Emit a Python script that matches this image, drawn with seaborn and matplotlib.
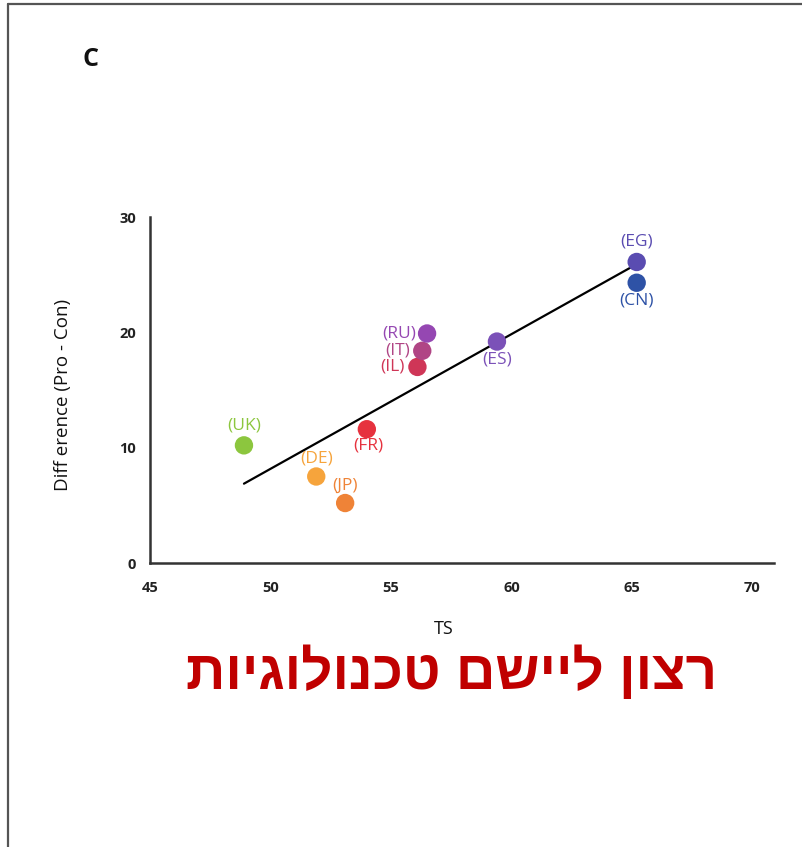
import matplotlib
matplotlib.use("Agg")
import matplotlib.pyplot as plt
from matplotlib.lines import Line2D
from matplotlib import font_manager
import pandas as pd
import seaborn as sns

# Country scores: TS (x) against the Pro - Con difference (y)
countries = ["UK", "DE", "JP", "FR", "IL", "IT", "RU", "ES", "EG", "CN"]
ts_scores = [48.9, 51.9, 53.1, 54.0, 56.1, 56.3, 56.5, 59.4, 65.2, 65.2]
pro_minus_con = [10.2, 7.5, 5.2, 11.6, 17.0, 18.4, 19.9, 19.2, 26.1, 24.3]

x_ticks = [45, 50, 55, 60, 65, 70]
y_ticks = [0, 10, 20, 30]

panel_letter = "C"
x_label = "TS"
y_label = "Diff erence (Pro - Con)"
title_text = "רצון ליישם טכנולוגיות"

point_colors = {
    "UK": "#8cc63e", "DE": "#f6a43c", "JP": "#ef8337", "FR": "#e6323e",
    "IL": "#cf3657", "IT": "#b04585", "RU": "#9547b2", "ES": "#7b51b8",
    "EG": "#5a4cb1", "CN": "#2e52a6",
}

# label placement around each marker: (dx, dy) in points, horizontal alignment
label_place = {
    "UK": (0, 14.5, "center"), "DE": (0, 13, "center"), "JP": (0, 12.5, "center"),
    "FR": (1, -12, "center"), "IL": (-9, 0, "right"), "IT": (-8.5, 0, "right"),
    "RU": (-8, 0, "right"), "ES": (0, -13, "center"), "EG": (0, 14.5, "center"),
    "CN": (0, -13, "center"),
}

df = pd.DataFrame({"country": countries, "TS": ts_scores, "diff": pro_minus_con})

sns.set_theme(style="white")
installed = {f.name for f in font_manager.fontManager.ttflist}
base_font = "Open Sans" if "Open Sans" in installed else "DejaVu Sans"
narrow_font = "Liberation Sans Narrow" if "Liberation Sans Narrow" in installed else base_font
title_font = "Liberation Sans" if "Liberation Sans" in installed else "DejaVu Sans"
plt.rcParams["font.family"] = [base_font, "DejaVu Sans"]

fig = plt.figure(figsize=(8.03, 8.47), dpi=100)
ax = fig.add_axes([0.1868, 0.3353, 0.9639 - 0.1868, 0.7438 - 0.3353])

sns.regplot(data=df, x="TS", y="diff", scatter=False, ci=None, truncate=True,
            color="black", line_kws={"linewidth": 1.6}, ax=ax)
sns.scatterplot(data=df, x="TS", y="diff", hue="country", palette=point_colors,
                s=175, edgecolor="none", legend=False, ax=ax, zorder=3)

for name, xv, yv in zip(countries, ts_scores, pro_minus_con):
    dx, dy, ha = label_place[name]
    ax.annotate(f"({name})", (xv, yv), xytext=(dx, dy), textcoords="offset points",
                ha=ha, va="center", fontsize=12.5, fontweight="medium",
                color=point_colors[name])

ax.set_xlim(45, 70.9)
ax.set_ylim(0, 30)
ax.set_xticks(x_ticks)
ax.set_yticks(y_ticks)
ax.tick_params(axis="both", direction="in", length=11, width=1.6, color="#333333",
               labelsize=10.5, labelcolor="#222222")
ax.tick_params(axis="x", pad=13)
ax.tick_params(axis="y", pad=10)
for lab in ax.get_xticklabels() + ax.get_yticklabels():
    lab.set_fontweight("bold")

for side in ["top", "right"]:
    ax.spines[side].set_visible(False)
for side in ["left", "bottom"]:
    ax.spines[side].set_color("#333333")
    ax.spines[side].set_linewidth(1.8)

ax.set_xlabel(x_label, fontsize=13, family=[narrow_font, "DejaVu Sans"], color="#111111")
ax.set_ylabel(y_label, fontsize=13.5, family=[narrow_font, "DejaVu Sans"], color="#111111")
ax.xaxis.set_label_coords(0.47, -0.165)
ax.yaxis.set_label_coords(-0.125, 0.486)

fig.text(91 / 803, 1 - 60 / 847, panel_letter, fontsize=18, fontweight="bold",
         ha="center", va="center", color="#111111")

# Hebrew is right-to-left; matplotlib lays glyphs out left-to-right
fig.text(452 / 803, 1 - 674 / 847, title_text[::-1], fontsize=39.5, fontweight="bold",
         ha="center", va="center", color="#c00000",
         family=[title_font, "DejaVu Sans"])

# frame lines on the left and top edges
fig.add_artist(Line2D([8 / 803, 8 / 803], [0, 1 - 4 / 847], transform=fig.transFigure,
                      color="#555555", linewidth=1.6))
fig.add_artist(Line2D([8 / 803, 1], [1 - 4 / 847, 1 - 4 / 847], transform=fig.transFigure,
                      color="#555555", linewidth=1.6))

fig.savefig("out.png", dpi=100)
